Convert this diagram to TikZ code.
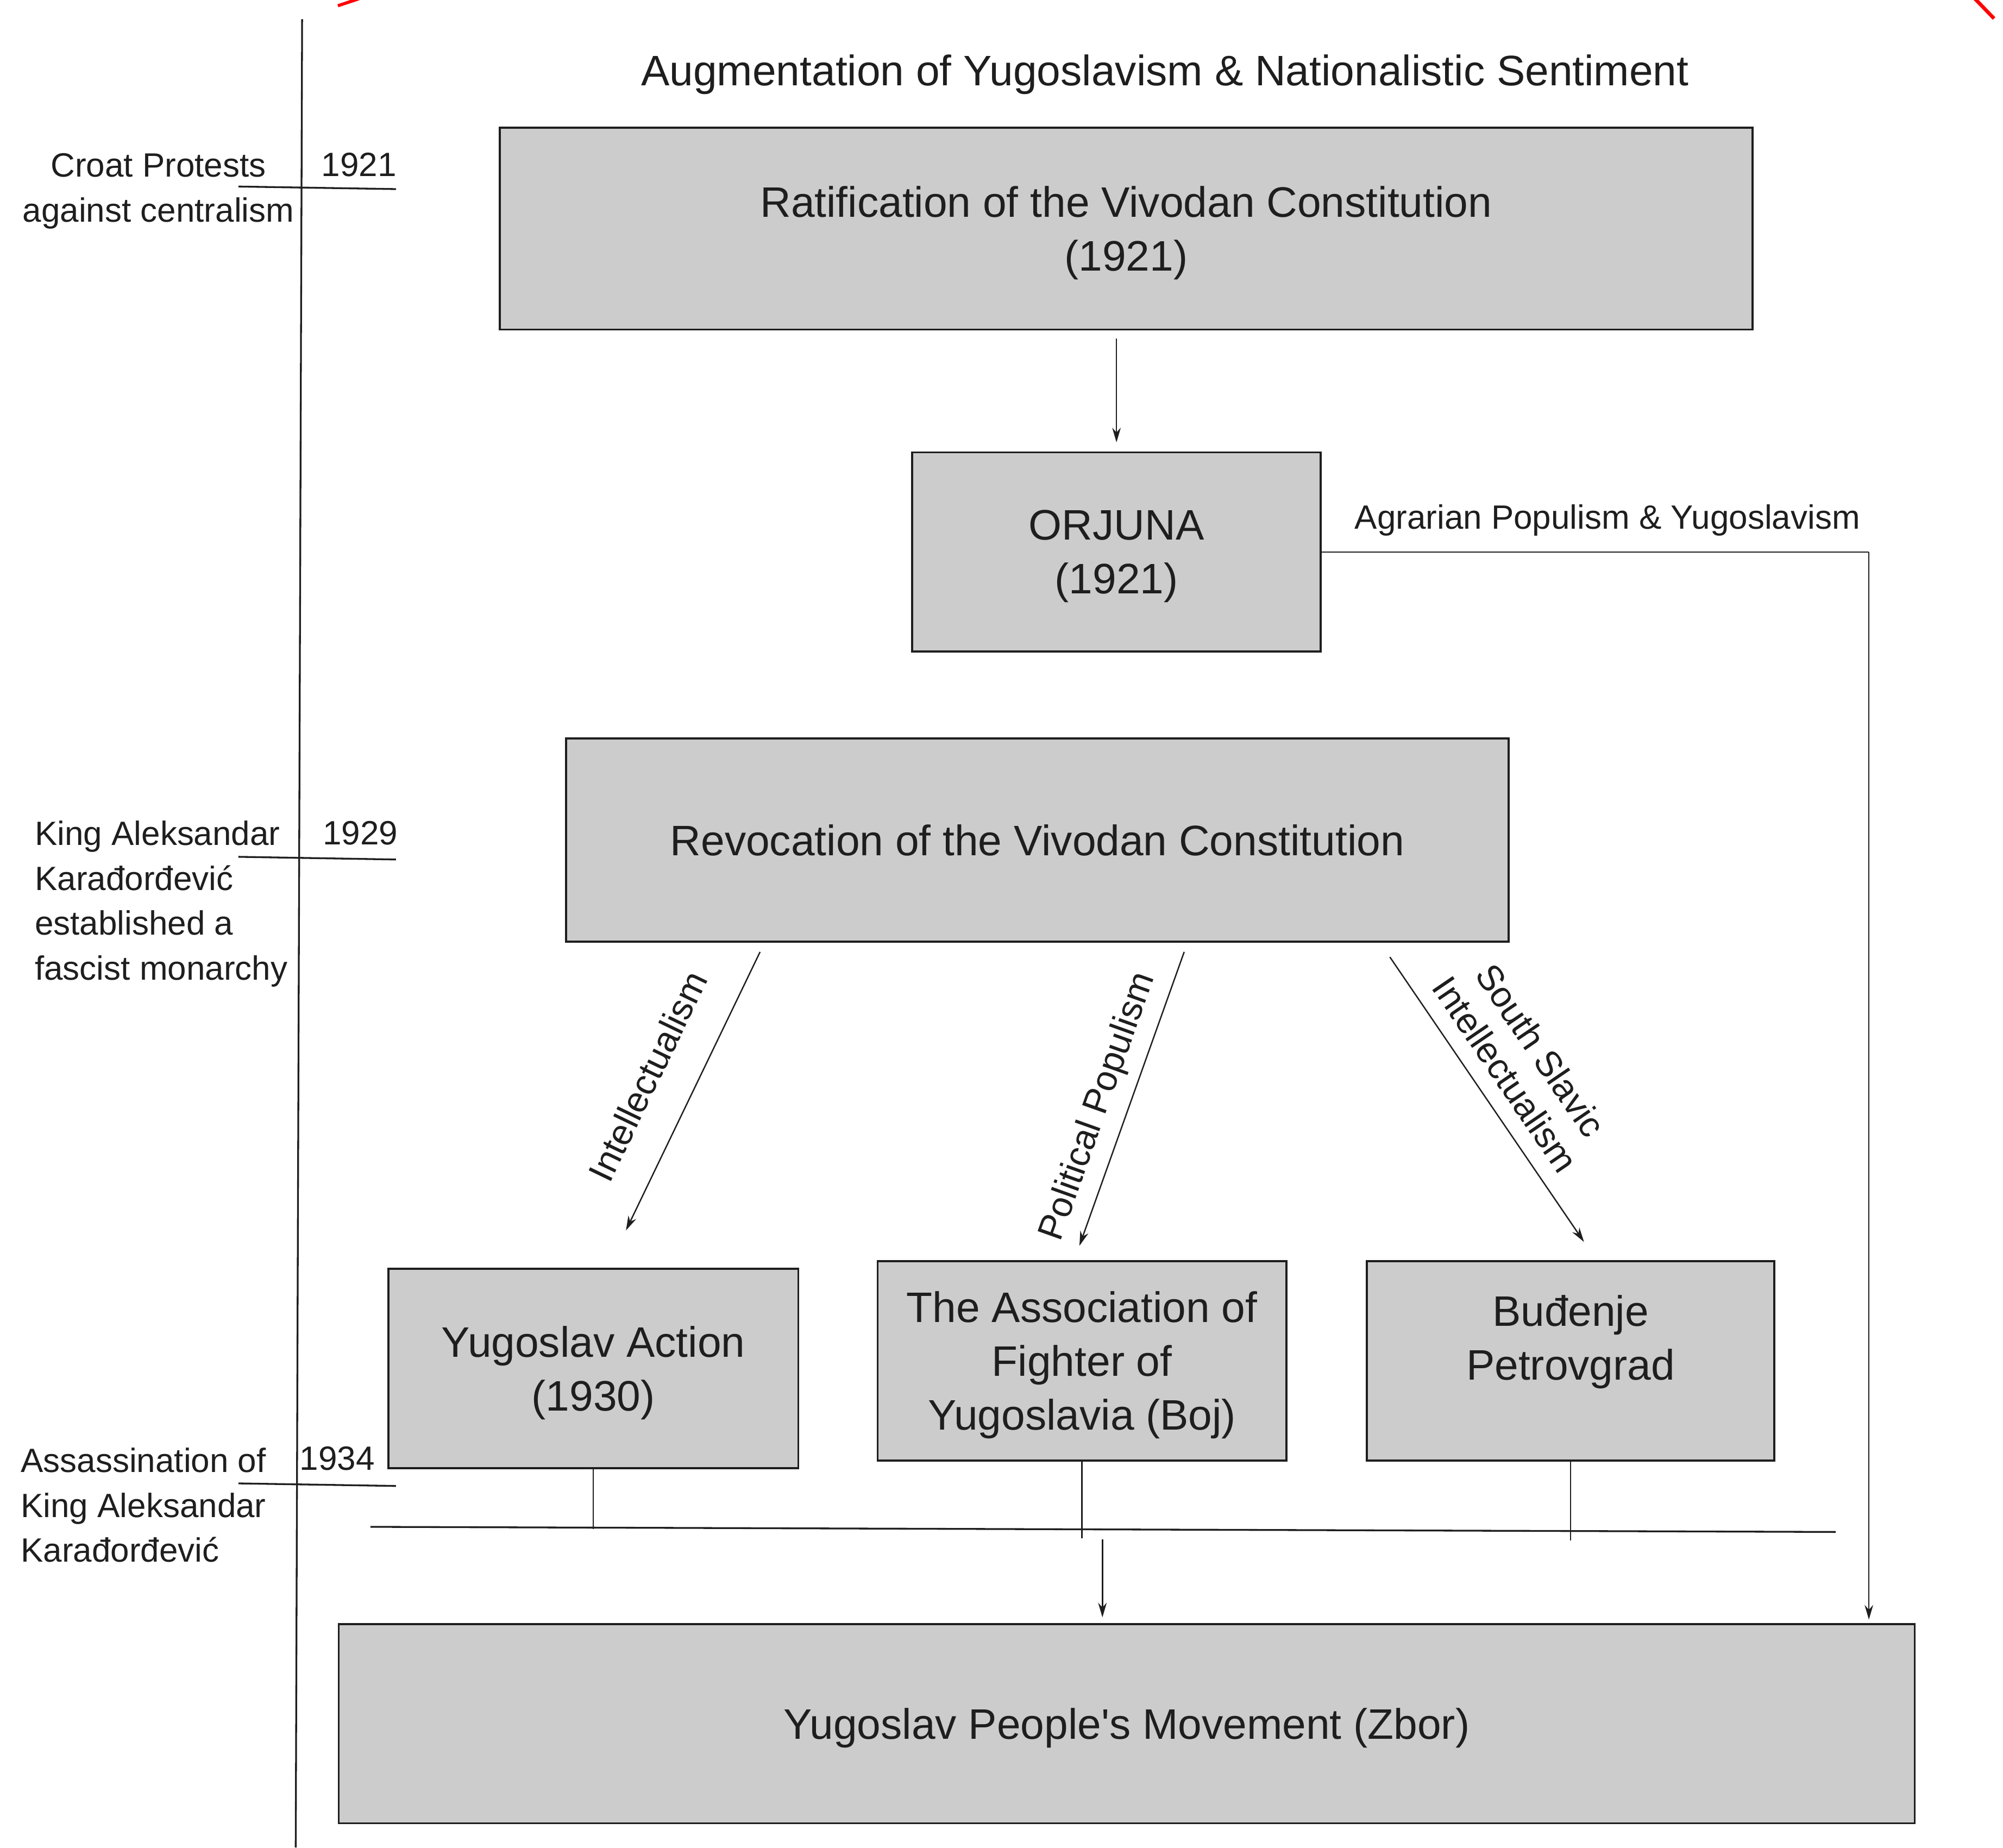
\documentclass[tikz,border=0pt]{standalone}
\usepackage{fontspec}
\setmainfont{Liberation Sans}[Ligatures=TeXOff]
\usepackage{tikz}
\usetikzlibrary{arrows.meta}
\definecolor{boxgray}{HTML}{CCCCCC}
\definecolor{inkgray}{HTML}{1E1E1E}
\newcommand{\boxfont}{\fontsize{19}{24}\selectfont}
\newcommand{\sidefont}{\fontsize{15}{20}\selectfont}
\newcommand{\slopefont}{\fontsize{16}{19}\selectfont}
\tikzset{
  box/.style={draw=inkgray, fill=boxgray, line width=0.9pt, inner sep=0pt, align=center, font=\boxfont, text=inkgray, text depth=0pt},
  side/.style={font=\sidefont, text=inkgray, inner sep=0pt},
  conn/.style={draw=inkgray, line width=0.6pt},
  arr/.style={conn, -{Stealth[length=6.5pt, width=3.8pt]}},
  slopelbl/.style={font=\slopefont, text=inkgray, sloped, align=center, inner sep=0pt},
}

\begin{document}
\begin{tikzpicture}[x=0.02cm, y=-0.02cm]
\useasboundingbox (0,0) rectangle (1568,1446);
% red marks at the top
\draw [red, line width=1.4pt] (264.5,4.5)--(281,-1);
\draw [red, line width=1.6pt] (1546,-1)--(1561,14.5);

% timeline
\draw [inkgray, line width=0.8pt] (236.5,15)--(231.5,1446);
\draw [conn, line width=0.8pt] (186.6,146)--(310,148);
\draw [conn, line width=0.8pt] (186.6,670.6)--(310,672.7);
\draw [conn, line width=0.8pt] (186.6,1161)--(310,1163);
\node [side] (y1921) at (281,129) {1921};
\node [side] (y1929) at (282,652) {1929};
\node [side] (y1934) at (264,1141.5) {1934};
\node [side, align=center] (croat) at (124,149.5) {Croat Protests\\against centralism};
\node [side, align=left, anchor=west] (kingest) at (27,707.5) {King Aleksandar\\Karađorđević\\established a\\fascist monarchy};
\node [side, align=left, anchor=west] (assas) at (16,1178) {Assassination of\\King Aleksandar\\Karađorđević};

% title
\node [font=\boxfont, text=inkgray, text depth=0pt] (title) at (912,55) {Augmentation of Yugoslavism \& Nationalistic Sentiment};

% boxes
\node [box, minimum width=19.62cm, minimum height=3.16cm] (ratif) at (881.5,179) {Ratification of the Vivodan Constitution\\(1921)};
\node [box, minimum width=6.40cm, minimum height=3.12cm] (orjuna) at (874,432) {ORJUNA\\(1921)};
\node [box, minimum width=14.76cm, minimum height=3.18cm] (revoc) at (812,657.5) {Revocation of the Vivodan Constitution};
\node [box, minimum width=6.42cm, minimum height=3.12cm] (yaction) at (464.5,1071) {Yugoslav Action\\(1930)};
\node [box, minimum width=6.40cm, minimum height=3.12cm] (assoc) at (847,1065) {The Association of\\Fighter of\\Yugoslavia (Boj)};
\node [box, minimum width=6.38cm, minimum height=3.12cm] (budj) at (1229.5,1065) {};
\node [font=\boxfont, text=inkgray, align=center, text depth=0pt] (budjtxt) at (1229.5,1047) {Buđenje\\Petrovgrad};
\node [box, minimum width=24.68cm, minimum height=3.12cm] (zbor) at (882,1349) {Yugoslav People's Movement (Zbor)};

% connectors
\draw [arr, shorten <=3.5pt, shorten >=4pt] (ratif.south -| orjuna.north)--(orjuna.north);
\coordinate (agcorner) at (1463,432);
\draw [conn] (orjuna.east)--node [side, above=6.8pt, pos=0.522] (agrar) {Agrarian Populism \& Yugoslavism} (agcorner);
\draw [arr, shorten >=1.5pt] (agcorner)--(agcorner |- zbor.north);

\coordinate (intS) at (595,745);
\coordinate (intE) at (490,963);
\coordinate (polS) at (927,745);
\coordinate (polE) at (845,975);
\coordinate (sslS) at (1088,749);
\coordinate (sslE) at (1240,972);
\draw [arr] (intS)--node [slopelbl, above=15pt, pos=0.52] (intlbl) {Intellectualism} (intE);
\draw [arr] (polS)--node [slopelbl, above=5pt, pos=0.56] (pollbl) {Political Populism} (polE);
\draw [arr] (sslS)--node [slopelbl, above=7pt, pos=0.47] (ssllbl) {South Slavic\\Intellectualism} (sslE);

% merge bar
\coordinate (barL) at (290,1195);
\coordinate (barR) at (1437,1199);
\draw [conn, line width=0.8pt] (barL)--(barR);
\draw [conn] (yaction.south)--++(0,47);
\draw [conn] (assoc.south)--++(0,60);
\draw [conn] (budj.south)--++(0,62);
\coordinate (barmid) at (863,1205);
\draw [arr, shorten >=2.5pt] (barmid)--(barmid |- zbor.north);
\end{tikzpicture}
\end{document}
